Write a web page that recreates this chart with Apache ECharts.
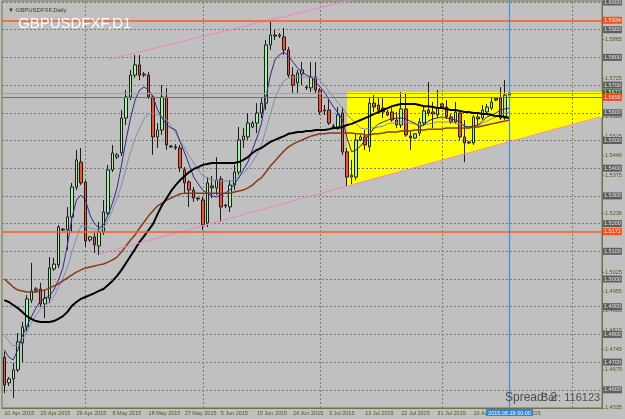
<!DOCTYPE html>
<html>
<head>
<meta charset="utf-8">
<title>GBPUSDFXF,D1</title>
<script src="https://cdn.jsdelivr.net/npm/echarts@6/dist/echarts.min.js"></script>
<style>
  html, body { margin: 0; padding: 0; background: #c0c0c0; }
  #chart { width: 625px; height: 419px; }
</style>
</head>
<body>
<div id="chart"></div>
<script>
const FONT = 'Liberation Sans, Arial, sans-serif';
const MONTHS = ['Jan', 'Feb', 'Mar', 'Apr', 'May', 'Jun', 'Jul', 'Aug', 'Sep', 'Oct', 'Nov', 'Dec'];

// daily bars incl. the short sunday session, 10 Apr .. 19 Aug 2015
const tradingDays = [];
for (let t = Date.UTC(2015, 3, 10); t <= Date.UTC(2015, 7, 19); t += 864e5) {
  const d = new Date(t);
  if (d.getUTCDay() === 6) continue;
  tradingDays.push(d.getUTCDate() + ' ' + MONTHS[d.getUTCMonth()] + ' 2015');
}
const FUTURE_SLOTS = 20; // chart shift on the right
const categories = tradingDays.concat(new Array(FUTURE_SLOTS).fill(''));

// [open, close, low, high]
const candles = [
  [1.4718, 1.4617, 1.4588, 1.4737], [1.4625, 1.4639, 1.4614, 1.4646], [1.4639, 1.4672, 1.4570, 1.4697],
  [1.4672, 1.4773, 1.4664, 1.4805], [1.4769, 1.4827, 1.4700, 1.4845], [1.4827, 1.4928, 1.4812, 1.4942],
  [1.4924, 1.4957, 1.4913, 1.5058], [1.4960, 1.4964, 1.4953, 1.4971], [1.4964, 1.4910, 1.4899, 1.4986],
  [1.4910, 1.4931, 1.4859, 1.4960], [1.4931, 1.5040, 1.4913, 1.5079], [1.5036, 1.5054, 1.5029, 1.5076],
  [1.5051, 1.5188, 1.5040, 1.5195], [1.5180, 1.5177, 1.5173, 1.5184], [1.5177, 1.5224, 1.5105, 1.5260],
  [1.5224, 1.5332, 1.5170, 1.5347], [1.5332, 1.5430, 1.5321, 1.5466], [1.5422, 1.5347, 1.5339, 1.5473],
  [1.5350, 1.5137, 1.5116, 1.5357], [1.5141, 1.5152, 1.5134, 1.5155], [1.5152, 1.5123, 1.5094, 1.5166],
  [1.5119, 1.5170, 1.5087, 1.5206], [1.5170, 1.5242, 1.5159, 1.5285], [1.5238, 1.5394, 1.5231, 1.5412],
  [1.5394, 1.5455, 1.5386, 1.5484], [1.5440, 1.5448, 1.5433, 1.5455], [1.5455, 1.5581, 1.5444, 1.5610],
  [1.5581, 1.5657, 1.5556, 1.5682], [1.5657, 1.5736, 1.5646, 1.5755], [1.5736, 1.5773, 1.5726, 1.5809],
  [1.5773, 1.5736, 1.5718, 1.5809], [1.5736, 1.5740, 1.5729, 1.5747], [1.5736, 1.5657, 1.5650, 1.5747],
  [1.5657, 1.5513, 1.5448, 1.5664], [1.5513, 1.5538, 1.5473, 1.5563], [1.5538, 1.5657, 1.5520, 1.5700],
  [1.5657, 1.5484, 1.5466, 1.5690], [1.5480, 1.5477, 1.5473, 1.5484], [1.5477, 1.5473, 1.5466, 1.5487],
  [1.5473, 1.5401, 1.5386, 1.5484], [1.5394, 1.5347, 1.5310, 1.5404], [1.5350, 1.5321, 1.5260, 1.5357],
  [1.5321, 1.5292, 1.5278, 1.5332], [1.5292, 1.5289, 1.5282, 1.5296], [1.5285, 1.5195, 1.5177, 1.5296],
  [1.5202, 1.5347, 1.5188, 1.5368], [1.5336, 1.5329, 1.5292, 1.5372], [1.5329, 1.5357, 1.5303, 1.5440],
  [1.5361, 1.5260, 1.5206, 1.5372], [1.5264, 1.5267, 1.5256, 1.5271], [1.5260, 1.5339, 1.5242, 1.5357],
  [1.5339, 1.5386, 1.5321, 1.5412], [1.5386, 1.5502, 1.5375, 1.5549], [1.5502, 1.5516, 1.5473, 1.5545],
  [1.5513, 1.5563, 1.5502, 1.5599], [1.5549, 1.5563, 1.5545, 1.5570], [1.5563, 1.5599, 1.5527, 1.5635],
  [1.5599, 1.5635, 1.5581, 1.5653], [1.5635, 1.5845, 1.5610, 1.5863], [1.5845, 1.5881, 1.5827, 1.5928],
  [1.5881, 1.5877, 1.5863, 1.5899], [1.5877, 1.5881, 1.5870, 1.5888], [1.5874, 1.5827, 1.5809, 1.5906],
  [1.5827, 1.5736, 1.5726, 1.5838], [1.5736, 1.5700, 1.5672, 1.5765], [1.5708, 1.5744, 1.5672, 1.5755],
  [1.5740, 1.5755, 1.5700, 1.5783], [1.5690, 1.5693, 1.5682, 1.5700], [1.5690, 1.5729, 1.5675, 1.5783],
  [1.5729, 1.5682, 1.5672, 1.5783], [1.5682, 1.5603, 1.5592, 1.5690], [1.5610, 1.5607, 1.5592, 1.5628],
  [1.5610, 1.5563, 1.5556, 1.5646], [1.5552, 1.5549, 1.5541, 1.5560], [1.5549, 1.5592, 1.5538, 1.5621],
  [1.5599, 1.5459, 1.5448, 1.5621], [1.5459, 1.5368, 1.5336, 1.5473], [1.5368, 1.5375, 1.5343, 1.5430],
  [1.5368, 1.5502, 1.5357, 1.5527], [1.5502, 1.5513, 1.5498, 1.5520], [1.5513, 1.5484, 1.5466, 1.5538],
  [1.5477, 1.5635, 1.5459, 1.5653], [1.5635, 1.5621, 1.5603, 1.5664], [1.5628, 1.5610, 1.5596, 1.5653],
  [1.5617, 1.5603, 1.5581, 1.5653], [1.5603, 1.5592, 1.5588, 1.5610], [1.5603, 1.5574, 1.5567, 1.5617],
  [1.5574, 1.5556, 1.5545, 1.5603], [1.5556, 1.5614, 1.5545, 1.5675], [1.5614, 1.5520, 1.5513, 1.5672],
  [1.5516, 1.5509, 1.5466, 1.5531], [1.5509, 1.5524, 1.5505, 1.5527], [1.5527, 1.5567, 1.5516, 1.5581],
  [1.5563, 1.5607, 1.5552, 1.5621], [1.5610, 1.5599, 1.5588, 1.5711], [1.5603, 1.5596, 1.5545, 1.5639],
  [1.5592, 1.5617, 1.5581, 1.5682], [1.5632, 1.5621, 1.5617, 1.5635], [1.5621, 1.5585, 1.5578, 1.5646],
  [1.5585, 1.5567, 1.5560, 1.5596], [1.5567, 1.5603, 1.5560, 1.5639], [1.5599, 1.5513, 1.5502, 1.5610],
  [1.5513, 1.5491, 1.5422, 1.5574], [1.5491, 1.5495, 1.5487, 1.5498], [1.5491, 1.5585, 1.5484, 1.5592],
  [1.5585, 1.5578, 1.5556, 1.5603], [1.5581, 1.5610, 1.5574, 1.5628], [1.5603, 1.5621, 1.5592, 1.5632],
  [1.5617, 1.5639, 1.5610, 1.5653], [1.5653, 1.5646, 1.5642, 1.5657], [1.5653, 1.5581, 1.5574, 1.5693],
  [1.5581, 1.5664, 1.5574, 1.5718], [1.5664, 1.5672, 1.5657, 1.5690]
];

// moving averages
const maBlack = [
  1.4924, 1.4917, 1.4906, 1.4895, 1.4881, 1.4866, 1.4856, 1.4848, 1.4845, 1.4845,
  1.4845, 1.4848, 1.4856, 1.4866, 1.4881, 1.4903, 1.4917, 1.4928, 1.4935, 1.4942,
  1.4949, 1.4957, 1.4964, 1.4978, 1.4993, 1.5011, 1.5033, 1.5058, 1.5083, 1.5108,
  1.5134, 1.5155, 1.5177, 1.5199, 1.5235, 1.5267, 1.5292, 1.5318, 1.5339, 1.5357,
  1.5372, 1.5386, 1.5397, 1.5404, 1.5412, 1.5415, 1.5419, 1.5419, 1.5419, 1.5419,
  1.5419, 1.5419, 1.5422, 1.5430, 1.5440, 1.5455, 1.5466, 1.5473, 1.5484, 1.5495,
  1.5502, 1.5509, 1.5516, 1.5524, 1.5527, 1.5531, 1.5531, 1.5534, 1.5534, 1.5538,
  1.5538, 1.5538, 1.5541, 1.5545, 1.5545, 1.5549, 1.5556, 1.5560, 1.5567, 1.5574,
  1.5581, 1.5588, 1.5596, 1.5603, 1.5610, 1.5617, 1.5624, 1.5628, 1.5632, 1.5632,
  1.5632, 1.5632, 1.5628, 1.5624, 1.5624, 1.5621, 1.5617, 1.5617, 1.5614, 1.5610,
  1.5610, 1.5607, 1.5603, 1.5603, 1.5599, 1.5599, 1.5596, 1.5596, 1.5592, 1.5588,
  1.5588, 1.5585, 1.5581
];
const maBrown = [
  1.5000, 1.4986, 1.4971, 1.4960, 1.4957, 1.4953, 1.4953, 1.4953, 1.4957, 1.4960,
  1.4967, 1.4975, 1.4982, 1.4993, 1.5004, 1.5015, 1.5025, 1.5033, 1.5040, 1.5043,
  1.5047, 1.5051, 1.5054, 1.5061, 1.5069, 1.5079, 1.5098, 1.5119, 1.5141, 1.5159,
  1.5184, 1.5206, 1.5228, 1.5246, 1.5264, 1.5274, 1.5285, 1.5292, 1.5300, 1.5307,
  1.5310, 1.5310, 1.5310, 1.5310, 1.5310, 1.5310, 1.5310, 1.5310, 1.5310, 1.5310,
  1.5310, 1.5314, 1.5318, 1.5321, 1.5329, 1.5339, 1.5354, 1.5365, 1.5386, 1.5408,
  1.5426, 1.5444, 1.5462, 1.5477, 1.5487, 1.5495, 1.5502, 1.5509, 1.5516, 1.5520,
  1.5524, 1.5524, 1.5527, 1.5527, 1.5527, 1.5527, 1.5527, 1.5527, 1.5524, 1.5524,
  1.5520, 1.5520, 1.5524, 1.5524, 1.5527, 1.5531, 1.5531, 1.5531, 1.5534, 1.5534,
  1.5534, 1.5538, 1.5538, 1.5538, 1.5541, 1.5541, 1.5541, 1.5541, 1.5545, 1.5545,
  1.5545, 1.5545, 1.5545, 1.5545, 1.5549, 1.5549, 1.5552, 1.5556, 1.5560, 1.5563,
  1.5567, 1.5570, 1.5574
];
const maBlue = [
  1.4744, 1.4718, 1.4708, 1.4744, 1.4794, 1.4830, 1.4863, 1.4895, 1.4921, 1.4931,
  1.4938, 1.4960, 1.4996, 1.5040, 1.5123, 1.5220, 1.5285, 1.5303, 1.5285, 1.5231,
  1.5199, 1.5184, 1.5195, 1.5231, 1.5274, 1.5329, 1.5412, 1.5502, 1.5581, 1.5646,
  1.5682, 1.5693, 1.5682, 1.5657, 1.5610, 1.5581, 1.5556, 1.5545, 1.5538, 1.5495,
  1.5455, 1.5412, 1.5368, 1.5343, 1.5321, 1.5310, 1.5300, 1.5296, 1.5303, 1.5310,
  1.5321, 1.5343, 1.5365, 1.5394, 1.5422, 1.5466, 1.5509, 1.5560, 1.5657, 1.5736,
  1.5791, 1.5809, 1.5819, 1.5805, 1.5783, 1.5762, 1.5747, 1.5736, 1.5729, 1.5711,
  1.5693, 1.5675, 1.5646, 1.5621, 1.5599, 1.5574, 1.5509, 1.5459, 1.5466, 1.5480,
  1.5502, 1.5524, 1.5545, 1.5560, 1.5567, 1.5574, 1.5578, 1.5581, 1.5581, 1.5578,
  1.5570, 1.5563, 1.5549, 1.5556, 1.5570, 1.5578, 1.5581, 1.5585, 1.5581, 1.5578,
  1.5574, 1.5567, 1.5552, 1.5549, 1.5552, 1.5556, 1.5570, 1.5585, 1.5592, 1.5599,
  1.5610, 1.5614, 1.5617
];
const maGray = [
  1.4798, 1.4776, 1.4758, 1.4762, 1.4780, 1.4809, 1.4841, 1.4870, 1.4892, 1.4906,
  1.4917, 1.4935, 1.4971, 1.5004, 1.5040, 1.5098, 1.5148, 1.5191, 1.5191, 1.5184,
  1.5180, 1.5177, 1.5184, 1.5213, 1.5249, 1.5292, 1.5339, 1.5401, 1.5459, 1.5509,
  1.5545, 1.5578, 1.5596, 1.5599, 1.5592, 1.5585, 1.5574, 1.5552, 1.5527, 1.5498,
  1.5473, 1.5444, 1.5419, 1.5394, 1.5372, 1.5365, 1.5357, 1.5357, 1.5354, 1.5354,
  1.5354, 1.5357, 1.5368, 1.5383, 1.5397, 1.5422, 1.5448, 1.5484, 1.5538, 1.5596,
  1.5650, 1.5690, 1.5715, 1.5726, 1.5729, 1.5729, 1.5729, 1.5729, 1.5729, 1.5726,
  1.5718, 1.5700, 1.5675, 1.5657, 1.5635, 1.5617, 1.5592, 1.5578, 1.5560, 1.5545,
  1.5541, 1.5545, 1.5545, 1.5549, 1.5552, 1.5560, 1.5563, 1.5563, 1.5567, 1.5567,
  1.5563, 1.5560, 1.5556, 1.5556, 1.5560, 1.5563, 1.5567, 1.5567, 1.5567, 1.5567,
  1.5563, 1.5560, 1.5552, 1.5549, 1.5549, 1.5552, 1.5563, 1.5570, 1.5578, 1.5585,
  1.5592, 1.5599, 1.5603
];

// price scale
const gridLevels = [1.46, 1.47, 1.48, 1.49, 1.50, 1.51, 1.52, 1.53, 1.54, 1.55, 1.56, 1.57, 1.58, 1.59, 1.60];
const scaleLabels = [1.5865, 1.5725, 1.5585, 1.5515, 1.5446, 1.5375, 1.5236, 1.5025, 1.4955,
  1.4885, 1.4815, 1.4745, 1.4675, 1.4535];
const monthStarts = [18, 44, 70, 97, 126];

// drawn objects: [bar index, price]
const upperChannel = [[23, 1.5792], [132, 1.6227]];
const lowerChannel = [[21, 1.5090], [132, 1.5585]];
const triangleZone = [[76, 1.5675], [132, 1.5675], [132, 1.5585], [76, 1.5335]];
const levelLines = [1.5934, 1.5171];
const redLevel = 1.5656;
const bidPrice = 1.5672;
const cursorBar = 112;
const cursorLabel = '2015.08.19 00:00';

const chart = echarts.init(document.getElementById('chart'));

const boxLabel = (bg, fg) => ({
  show: true,
  position: 'end',
  distance: 1,
  formatter: '{b}',
  fontSize: 5.5,
  fontFamily: FONT,
  color: fg,
  backgroundColor: bg,
  padding: [1, 1, 0, 1]
});

const option = {
  backgroundColor: '#c0c0c0',
  animation: false,
  textStyle: { fontFamily: FONT },
  title: [
    {
      text: 'GBPUSDFXF,D1', left: 13, top: 11,
      textStyle: { color: '#ffffff', fontSize: 15, fontWeight: 'normal', fontFamily: FONT }
    },
    {
      text: '▼ GBPUSDFXF,Daily', left: 3, top: 2,
      textStyle: { color: '#3c3c1e', fontSize: 6, fontWeight: 'normal', fontFamily: FONT }
    }
  ],
  graphic: [
    { type: 'text', left: 505, top: 392, z: 50, style: { text: 'Spread: 2', fill: '#4c4c4c', font: '12px ' + FONT } },
    { type: 'text', left: 541, top: 392, z: 50, style: { text: 'Bar: 116123', fill: '#4c4c4c', font: '11px ' + FONT } }
  ],
  grid: {
    left: 2, right: 23, top: 1, bottom: 11,
    show: true, borderColor: '#6f7242', borderWidth: 1,
    outerBoundsMode: 'none'
  },
  xAxis: {
    type: 'category',
    data: categories,
    boundaryGap: true,
    axisLine: { lineStyle: { color: '#6f7242' } },
    axisTick: { interval: 7, alignWithLabel: true, length: 2, lineStyle: { color: '#6f7242' } },
    axisLabel: { interval: 7, align: 'left', fontSize: 5.5, color: '#4b5a1c', margin: 2, fontFamily: FONT },
    splitLine: { show: false }
  },
  yAxis: {
    type: 'value',
    position: 'right',
    min: 1.45343,
    max: 1.60036,
    axisLine: { show: true, lineStyle: { color: '#6f7242' } },
    axisTick: { show: true, customValues: scaleLabels, length: 2, lineStyle: { color: '#6f7242' } },
    axisLabel: {
      customValues: scaleLabels,
      formatter: v => v.toFixed(4),
      fontSize: 5.5, color: '#4b5a1c', margin: 3, fontFamily: FONT
    },
    splitLine: { show: false }
  },
  series: [
    {
      // yellow triangle object, drawn behind the bars
      type: 'custom',
      silent: true,
      z: 1,
      data: [triangleZone[0]],
      renderItem: (params, api) => {
        const cs = params.coordSys;
        const pts = triangleZone.map(p => {
          const c = api.coord(p);
          if (p[0] === categories.length - 1) c[0] = cs.x + cs.width;
          return c;
        });
        return { type: 'polygon', shape: { points: pts }, style: { fill: '#ffff00' } };
      },
      markLine: {
        silent: true,
        z: 2,
        symbol: ['none', 'none'],
        precision: 4,
        lineStyle: { color: '#7a7a7a', type: [2, 2], width: 1 },
        label: boxLabel('#5e5e5e', '#e4e4e4'),
        data: gridLevels.map(v => ({ yAxis: v, name: v.toFixed(4) })).concat(
          monthStarts.map(i => ({
            xAxis: i,
            label: { show: false },
            lineStyle: { color: '#7d7d60', type: [2, 2], width: 1 }
          }))
        )
      }
    },
    {
      type: 'candlestick',
      data: candles,
      barWidth: 3,
      z: 3,
      itemStyle: {
        color: '#9cf89c',
        color0: '#ff4f2a',
        borderColor: '#1c1c1c',
        borderColor0: '#1c1c1c',
        borderWidth: 1
      },
      markLine: {
        silent: true,
        z: 6,
        symbol: ['none', 'none'],
        precision: 4,
        data: levelLines.map(v => ({
          yAxis: v, name: v.toFixed(4),
          lineStyle: { color: '#ff5a1e', width: 1.5, type: 'solid' },
          label: boxLabel('#ff4c14', '#ffffff')
        })).concat([
          {
            yAxis: bidPrice, name: bidPrice.toFixed(4),
            lineStyle: { color: '#8ea3c6', width: 1, type: 'solid' },
            label: boxLabel('#2e5e1e', '#e6e6e6')
          },
          {
            yAxis: redLevel, name: redLevel.toFixed(4),
            lineStyle: { color: '#e8401a', width: 1, type: 'solid' },
            label: boxLabel('#ff3c10', '#ffffff')
          },
          {
            xAxis: cursorBar, name: cursorLabel,
            lineStyle: { color: '#3d8fe0', width: 1.2, type: 'solid' },
            label: {
              show: true, position: 'start', distance: 1, formatter: '{b}',
              fontSize: 5.5, fontFamily: FONT, color: '#ffffff',
              backgroundColor: '#2f86e0', padding: [1, 2, 0, 2]
            }
          }
        ])
      }
    },
    { type: 'line', data: maGray, symbol: 'none', silent: true, z: 4, lineStyle: { color: '#7b8eab', width: 1 } },
    { type: 'line', data: maBlue, symbol: 'none', silent: true, z: 4, lineStyle: { color: '#2e2a8e', width: 1 } },
    { type: 'line', data: maBrown, symbol: 'none', silent: true, z: 4, lineStyle: { color: '#8a3a10', width: 1.5 } },
    { type: 'line', data: maBlack, symbol: 'none', silent: true, z: 4, lineStyle: { color: '#000000', width: 2 } },
    { type: 'line', data: upperChannel, symbol: 'none', silent: true, z: 4, lineStyle: { color: '#f283c8', width: 1 } },
    { type: 'line', data: lowerChannel, symbol: 'none', silent: true, z: 4, lineStyle: { color: '#f283c8', width: 1 } }
  ]
};

chart.setOption(option);
window.addEventListener('resize', () => chart.resize());
</script>
</body>
</html>
